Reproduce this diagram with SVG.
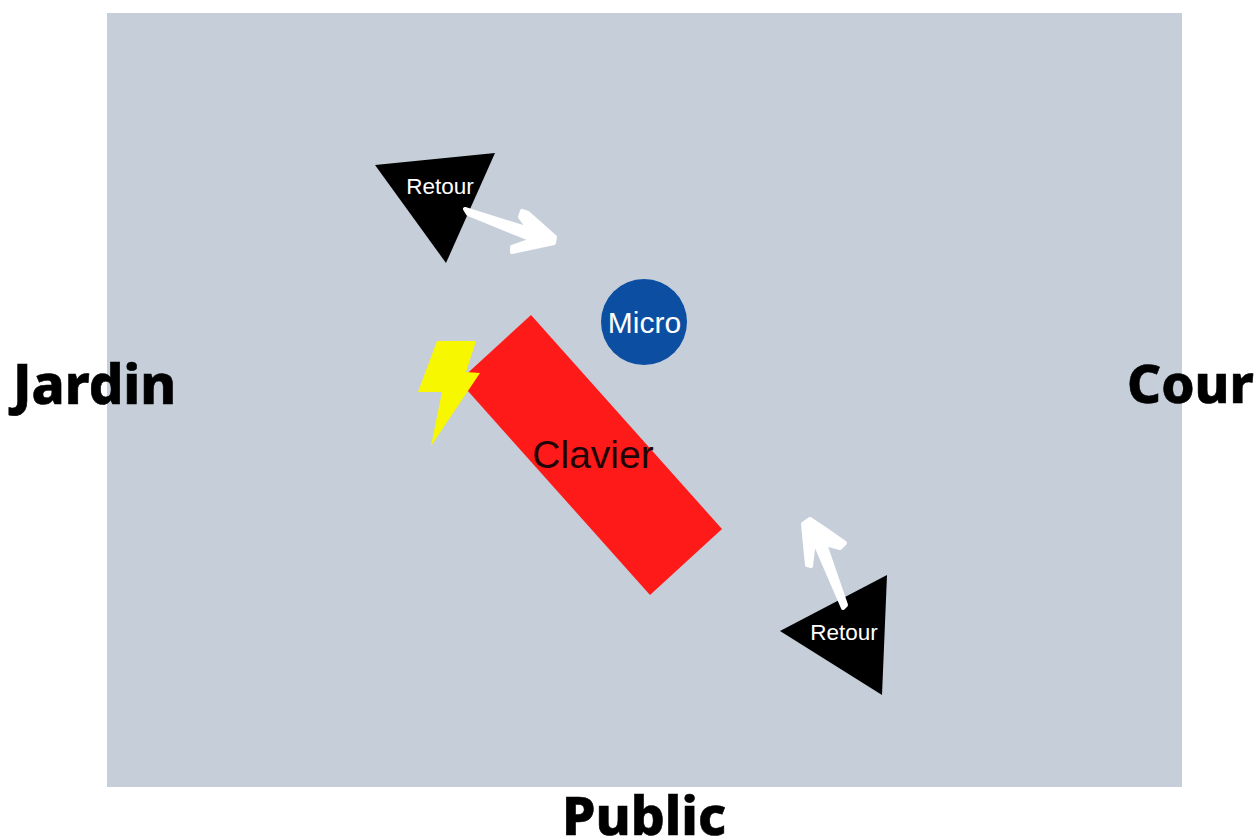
<svg xmlns="http://www.w3.org/2000/svg" width="1258" height="839" viewBox="0 0 1258 839">
<style>
.side{font-family:"Noto Sans","Open Sans","Liberation Sans",sans-serif;font-weight:800;font-style:normal;fill:#000;stroke:#000;stroke-width:.6}
.lab{font-family:"Liberation Sans",Arial,sans-serif;fill:#fff;text-anchor:middle}
.arrow{fill:#fff;stroke:#fff;stroke-width:4;stroke-linejoin:round;stroke-linecap:round}
</style>
<rect width="1258" height="839" fill="#fff"/>
<rect id="stage" x="107" y="13" width="1075" height="774" fill="#c6cfd9"/>
<g id="retour-top"><polygon points="375,165 495,153 446,263" fill="#000"/><text class="lab" x="440" y="194" font-size="22.5">Retour</text></g>
<g id="retour-bottom"><polygon points="780,631 887,575 882,695" fill="#000"/><text class="lab" x="844" y="640" font-size="22.5">Retour</text></g>
<g id="clavier"><polygon points="531,315 722,529 650,595 459,381" fill="#ff1a1a"/><text x="593" y="468" font-size="39" text-anchor="middle" font-family="Liberation Sans,Arial,sans-serif" fill="#1f0508">Clavier</text></g>
<g id="micro"><circle cx="644" cy="322" r="43" fill="#0b4ea2"/><text class="lab" x="644.500" y="333" font-size="30">Micro</text></g>
<g id="eclair"><polygon points="437,341 476,341 466,372 480,373 431,446 442,392 418,392" fill="#f7f700"/></g>
<g id="connectors">
<path class="arrow" d="M465,209 L529,229 L520,217 L522,211 L528,213 L555,237 L554,243 L512,252 L512,247 L532,240 L468,214 Z"/>
<path class="arrow" d="M810,519 L803,524 L805,545 L807,565 L811,566 L814,541 L843,608 L846,605 L825,544 L840,548 L845,543 L825,529 Z"/>
</g>
<text id="jardin" class="side" x="13" y="404" font-size="54.500">Jardin</text>
<text id="cour" class="side" x="1127" y="403" font-size="53">Cour</text>
<text id="public" class="side" x="562" y="835" font-size="53.500">Public</text>
</svg>
